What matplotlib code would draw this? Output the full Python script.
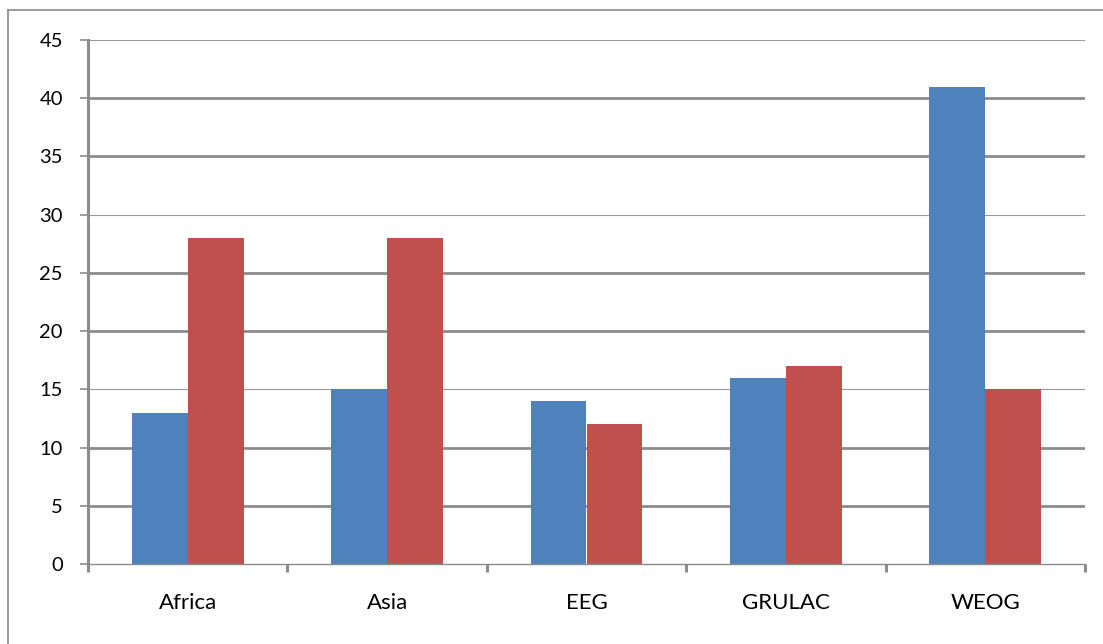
import matplotlib
matplotlib.use("Agg")
import matplotlib.pyplot as plt
from matplotlib.lines import Line2D
import numpy as np

categories = ["Africa", "Asia", "EEG", "GRULAC", "WEOG"]
series_a = [13, 15, 14, 16, 41]
series_b = [28, 28, 12, 17, 15]
y_ticks = [0, 5, 10, 15, 20, 25, 30, 35, 40, 45]

blue = "#4F81BD"
red = "#C0504D"
grid_col = "#8C8C8C"

W, H = 1103, 644
fig = plt.figure(figsize=(W / 100, H / 100), dpi=100)
plt.rcParams["font.family"] = ["Lato", "DejaVu Sans"]

# plot area in pixel terms
left, right, top, bottom = 88, 1085, 40, 564
ax = fig.add_axes([left / W, 1 - bottom / H, (right - left) / W, (bottom - top) / H])

# outer chart frame (left and top edges visible)
fig.add_artist(Line2D([8 / W, 8 / W], [0, 1 - 10 / H], transform=fig.transFigure,
                      color="#8A8A8A", lw=1.2))
fig.add_artist(Line2D([8 / W, 1], [1 - 10 / H, 1 - 10 / H], transform=fig.transFigure,
                      color="#8A8A8A", lw=1.2))

x = np.arange(len(categories))
bw = 0.28
ax.set_xlim(-0.5, len(categories) - 0.5)
ax.set_ylim(0, 45)

# horizontal gridlines; every third one renders thinner
for i, v in enumerate(y_ticks):
    if v == 0:
        continue
    thin = (i % 3 == 0)
    ax.axhline(v, color="#9A9A9A" if thin else grid_col,
               lw=0.8 if thin else 2.0, zorder=1)

ax.bar(x - bw / 2, series_a, width=bw, color=blue, zorder=3)
ax.bar(x + bw / 2, series_b, width=bw, color=red, zorder=3)

for s in ["top", "right"]:
    ax.spines[s].set_visible(False)
ax.spines["left"].set_color(grid_col)
ax.spines["left"].set_linewidth(2.2)
ax.spines["bottom"].set_color("#8A8A8A")
ax.spines["bottom"].set_linewidth(1.0)
ax.spines["left"].set_zorder(4)
ax.spines["bottom"].set_zorder(4)

ax.set_yticks(y_ticks)
ax.set_yticklabels([str(v) for v in y_ticks])
ax.tick_params(axis="y", length=6, width=1.2, color=grid_col, pad=12,
               labelsize=14.5, labelcolor="black")

ax.set_xticks(np.arange(-0.5, len(categories), 1.0))
ax.set_xticklabels([])
ax.tick_params(axis="x", which="major", length=6, width=2.2, color=grid_col)
ax.set_xticks(x, minor=True)
ax.set_xticklabels(categories, minor=True)
ax.tick_params(axis="x", which="minor", length=0, pad=21, labelsize=16,
               labelcolor="black")

fig.savefig("out.png", dpi=100, facecolor="white")
